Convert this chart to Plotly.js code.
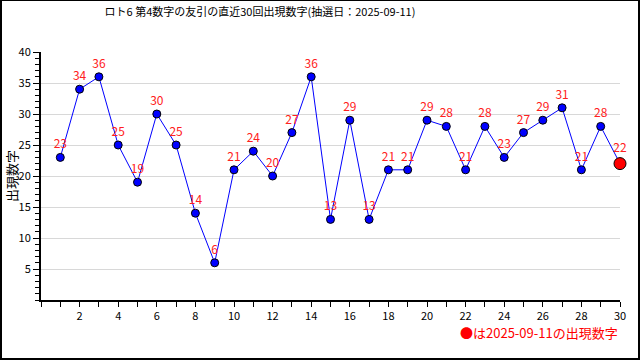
<!DOCTYPE html>
<html><head><meta charset="utf-8">
<script src="https://cdn.plot.ly/plotly-3.0.1.min.js"></script>
<style>
html,body{margin:0;padding:0;background:#fff;}
#frame{width:640px;height:360px;box-sizing:border-box;border-style:solid;border-color:#000;border-width:1px 2px 2px 2px;}
#chart{width:636px;height:357px;}
</style></head>
<body><div id="frame"><div id="chart"></div></div>
<script>
const drawNo = [1,2,3,4,5,6,7,8,9,10,11,12,13,14,15,16,17,18,19,20,21,22,23,24,25,26,27,28,29,30];
const values = [23,34,36,25,19,30,25,14,6,21,24,20,27,36,13,29,13,21,21,29,28,21,28,23,27,29,31,21,28,22];
const xTickVals = [2,4,6,8,10,12,14,16,18,20,22,24,26,28,30];
const yTickVals = [5,10,15,20,25,30,35,40];
const titleText = 'ロト6 第4数字の友引の直近30回出現数字(抽選日：2025-09-11)';
const yTitle = '出現数字';
const noteText = '●は2025-09-11の出現数字';

const last = values.length - 1;
const markerColors = values.map((v,i)=> i===last ? '#ff0000' : '#0000ff');
const markerSizes = values.map((v,i)=> i===last ? 12 : 8);
const FONT = '"Noto Sans CJK JP", "DejaVu Sans", sans-serif';

const trace = {
  x: drawNo, y: values, type: 'scatter', mode: 'lines+markers+text',
  line: {color: '#0000ff', width: 1},
  marker: {color: markerColors, size: markerSizes, opacity: 1, line: {color: '#000', width: 1}},
  opacity: 1,
  text: values.map(String), textposition: 'top center',
  textfont: {color: '#ff2020', size: 12, family: FONT},
  cliponaxis: false, hoverinfo: 'none'
};

const layout = {
  width: 636, height: 357,
  margin: {l: 39, r: 18, t: 51, b: 58},
  paper_bgcolor: '#fff', plot_bgcolor: '#fff',
  showlegend: false,
  font: {family: FONT, size: 11, color: '#000'},
  title: {text: titleText, x: 258/636, xref: 'container', xanchor: 'center', y: 1 - 11/357, yref: 'container', yanchor: 'middle', font: {size: 11, color: '#000', family: FONT}},
  xaxis: {range: [0, 30], tickmode: 'array', tickvals: xTickVals, ticks: 'outside', ticklen: 5, tickcolor: '#000', showgrid: false, zeroline: false, showline: true, linecolor: '#000', linewidth: 2,
    minor: {dtick: 1, tick0: 0, ticks: 'outside', ticklen: 5, tickcolor: '#000', showgrid: false},
    tickfont: {size: 11, family: FONT}, fixedrange: true},
  yaxis: {range: [0, 40], tickmode: 'array', tickvals: yTickVals, ticks: 'outside', ticklen: 6, tickcolor: '#000', showgrid: true, gridcolor: '#d8d8d8', gridwidth: 1, zeroline: false, showline: true, linecolor: '#000', linewidth: 2,
    minor: {dtick: 1, tick0: 0, ticks: 'outside', ticklen: 4, tickcolor: '#000', showgrid: false},
    tickfont: {size: 11, family: FONT}, fixedrange: true},
  annotations: [
    {text: noteText, xref: 'paper', yref: 'paper', x: 1, y: -0.133, xanchor: 'right', yanchor: 'middle', showarrow: false, font: {color: '#ff0000', size: 13, family: FONT}},
    {text: yTitle, xref: 'paper', yref: 'paper', x: (9 - 39) / 579, y: 0.5, xanchor: 'center', yanchor: 'middle', textangle: -90, showarrow: false, font: {color: '#000', size: 13, family: FONT}}
  ]
};
Plotly.newPlot('chart', [trace], layout, {staticPlot: true, displayModeBar: false});
</script></body></html>
